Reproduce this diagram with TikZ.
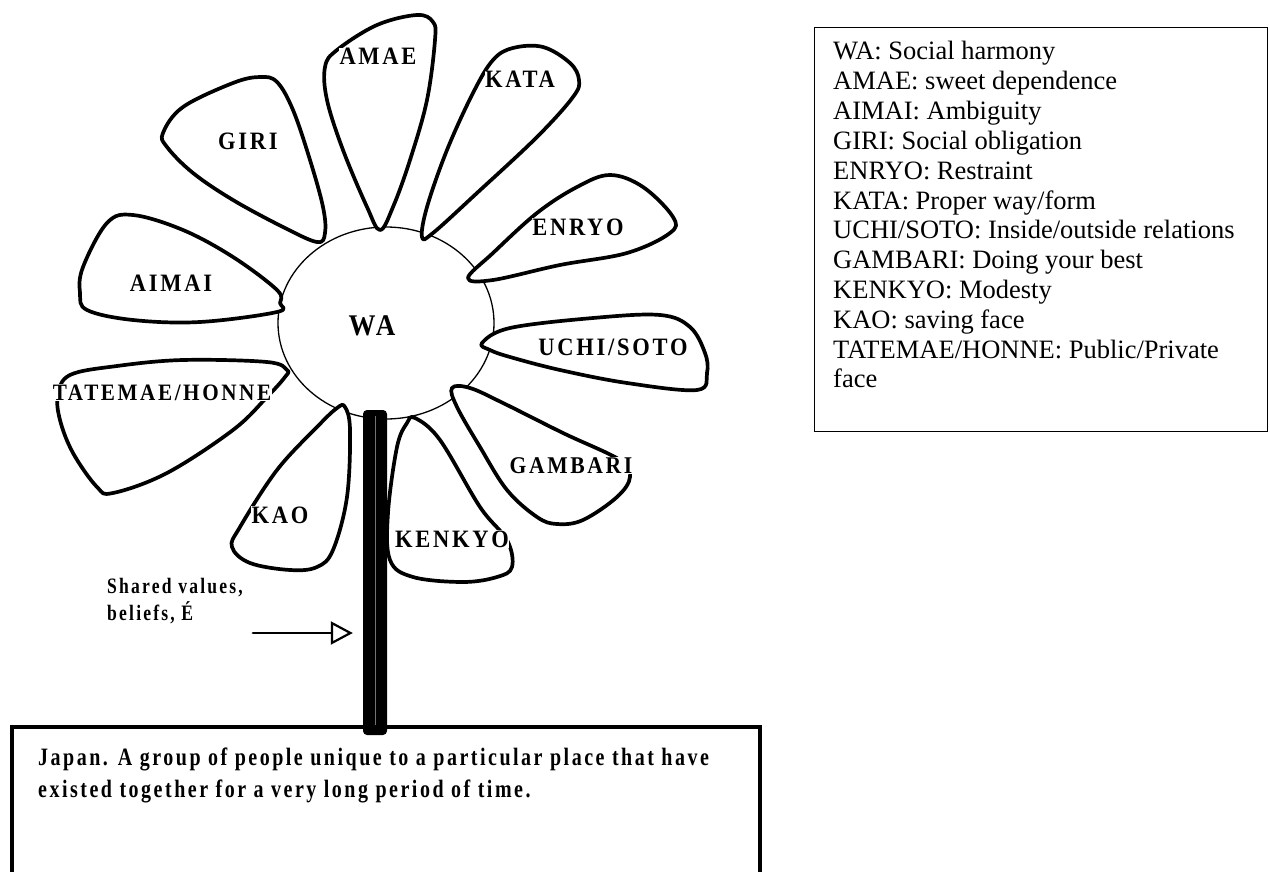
\documentclass[tikz,border=0pt]{standalone}
\usepackage{fontspec}
\setmainfont{Liberation Serif}
\newfontfamily\condbold{Liberation Serif Bold}[FakeStretch=0.8,LetterSpace=10]
\newfontfamily\lblbold{Liberation Serif Bold}[FakeStretch=0.9,LetterSpace=11]
\usetikzlibrary{arrows.meta,shapes.geometric}
\begin{document}
\begin{tikzpicture}[x=1pt,y=-1pt,
  petal/.style={draw=black,line width=3.7pt,fill=white,line join=round},
  lbl/.style={font=\lblbold\fontsize{25}{28}\selectfont,fill=white,inner sep=0.5pt,anchor=base},
  legtext/.style={font=\fontsize{26.5}{30}\selectfont,anchor=base west,inner sep=0pt},
  condtext/.style={font=\condbold\fontsize{25}{30}\selectfont,anchor=base west,inner sep=0pt},
  svtext/.style={font=\condbold\fontsize{22}{26}\selectfont,anchor=base west,inner sep=0pt}]
\useasboundingbox (0,0) rectangle (1270,872);

% centre
\node[draw,ellipse,line width=1.3pt,minimum width=216pt,minimum height=192pt,inner sep=0pt] (wa) at (386,323) {};

% petals
\draw[petal] plot[smooth cycle,tension=0.6] coordinates {(163,133) (183,107) (233,83) (260,77) (277,82) (293,110) (310,160) (323,207) (325,233) (317,242) (283,227) (233,200) (193,173) (167,147)};
\draw[petal] plot[smooth cycle,tension=0.6] coordinates {(325,67) (337,50) (377,25) (417,15) (433,22) (435,40) (427,100) (410,160) (393,207) (380,230) (367,207) (343,150) (327,100)};
\draw[petal] plot[smooth cycle,tension=0.6] coordinates {(422,237) (427,207) (447,150) (473,93) (493,60) (513,48) (543,47) (570,63) (579,80) (573,97) (537,137) (477,193) (433,233)};
\draw[petal] plot[smooth cycle,tension=0.6] coordinates {(468,278) (493,253) (537,213) (577,187) (610,175) (643,187) (673,217) (670,233) (627,253) (560,265) (493,280)};
\draw[petal] plot[smooth cycle,tension=0.6] coordinates {(482,343) (510,328) (593,318) (660,315) (690,327) (705,353) (707,373) (697,390) (627,383) (560,370) (510,357) (490,350)};
\draw[petal] plot[smooth cycle,tension=0.6] coordinates {(452,388) (457,407) (480,447) (507,490) (537,517) (557,524) (583,520) (617,497) (630,477) (620,460) (563,433) (503,403) (470,388)};
\draw[petal] plot[smooth cycle,tension=0.6] coordinates {(415,418) (440,440) (480,507) (507,540) (512,567) (497,577) (463,582) (413,577) (390,560) (388,513) (397,447) (407,423)};
\draw[petal] plot[smooth cycle,tension=0.6] coordinates {(345,407) (350,430) (347,497) (333,550) (317,567) (290,570) (250,563) (232,547) (240,527) (277,470) (317,427) (337,408)};
\draw[petal] plot[smooth cycle,tension=0.6] coordinates {(287,370) (267,362) (183,360) (117,366) (70,375) (58,395) (60,420) (73,453) (97,487) (113,493) (167,473) (233,430) (267,397) (285,377)};
\draw[petal] plot[smooth cycle,tension=0.6] coordinates {(280,303) (277,290) (233,257) (183,230) (133,215) (107,223) (83,267) (80,293) (87,310) (133,320) (200,322) (277,312)};

% labels
\node[lbl] (giri) at (248,150) {GIRI};
\node[lbl] (amae) at (378,65) {AMAE};
\node[lbl] (kata) at (520,88) {KATA};
\node[lbl] (enryo) at (578,235) {ENRYO};
\node[lbl] (uchi) at (613,355) {UCHI/SOTO};
\node[lbl] (aimai) at (171,291) {AIMAI};
\node[lbl,font=\lblbold\fontsize{23.5}{28}\selectfont] (tate) at (162,400) {TATEMAE/HONNE};
\node[lbl,font=\lblbold\fontsize{24}{28}\selectfont] (gamb) at (571,473) {GAMBARI};
\node[lbl] (kenk) at (452,547) {KENKYO};
\node[lbl] (kao) at (280,523) {KAO};
\node[lbl,font=\lblbold\fontsize{30}{32}\selectfont,fill=none] (walbl) at (372,335) {WA};

% stem
\node[fill=black,rounded corners=4pt,minimum width=24pt,minimum height=325pt,inner sep=0pt] (stem) at (375,572.5) {};
\draw[black!55,line width=0.3pt] ([yshift=-6pt]stem.north) -- ([yshift=6pt]stem.south);

% arrow
\coordinate (arrS) at (253,633);
\draw[line width=2.8pt,line cap=round,-{Triangle[open,length=22pt,width=23pt,line width=2.2pt]}] (arrS) -- ([xshift=-10pt]stem.west |- arrS);

\node[svtext] (sv1) at (107,593) {Shared values,};
\node[svtext] (sv2) at (107,620) {beliefs, É};

% bottom box
\draw[line width=3.5pt] (12,880) -- (12,727) -- (760,727) -- (760,880);
\node[condtext] (jp1) at (38,765) {Japan. A group of people unique to a particular place that have};
\node[condtext] (jp2) at (38,797) {existed together for a very long period of time.};

% legend
\node[draw,line width=1.2pt,minimum width=453pt,minimum height=404pt,anchor=north west,inner sep=0pt] (legbox) at (814,27) {};
\foreach \t [count=\i from 0] in {WA: Social harmony,AMAE: sweet dependence,AIMAI: Ambiguity,GIRI: Social obligation,ENRYO: Restraint,KATA: Proper way/form,UCHI/SOTO: Inside/outside relations,GAMBARI: Doing your best,KENKYO: Modesty,KAO: saving face,TATEMAE/HONNE: Public/Private,face}
  \node[legtext] (leg\i) at (833,{60+29.8*\i}) {\t};
\end{tikzpicture}
\end{document}
